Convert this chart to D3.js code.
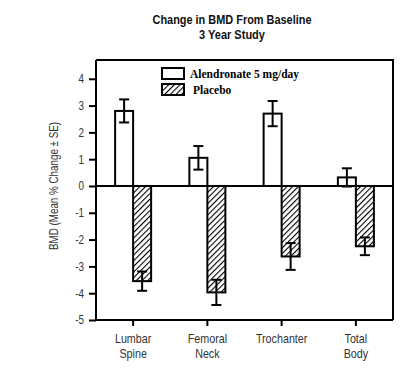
<!DOCTYPE html>
<html>
<head>
<meta charset="utf-8">
<script src="https://cdn.jsdelivr.net/npm/d3@7"></script>
<style>
body { margin: 0; background: #fff; }
svg { display: block; }
</style>
</head>
<body>
<svg id="chart"></svg>
<script>
var width = 409, height = 371;
var margin = { top: 60, right: 16, bottom: 51, left: 96 };
var chart_width = width - margin.left - margin.right;
var chart_height = height - margin.top - margin.bottom;

// data
var categories = [["Lumbar", "Spine"], ["Femoral", "Neck"], ["Trochanter"], ["Total", "Body"]];
var series = ["Alendronate 5 mg/day", "Placebo"];
var alendronate = [2.8, 1.05, 2.7, 0.32];
var alendronate_se = [0.43, 0.44, 0.47, 0.34];
var placebo = [-3.55, -3.97, -2.63, -2.25];
var placebo_se = [0.36, 0.47, 0.5, 0.33];
var y_ticks = [4, 3, 2, 1, 0, -1, -2, -3, -4, -5];

var sans = "'Liberation Sans', Arial, sans-serif";
var squeeze = 0.82; // the original uses a condensed face

var svg = d3.select("#chart").attr("width", width).attr("height", height);

var xScale = d3.scaleBand().domain(d3.range(categories.length)).range([0, chart_width]).paddingInner(0).paddingOuter(0);
var yScale = d3.scaleLinear().domain([-5, 4.7]).range([chart_height, 0]);
var barW = 18;

var defs = svg.append("defs");
var pat = defs.append("pattern")
	.attr("id", "hatch")
	.attr("patternUnits", "userSpaceOnUse")
	.attr("width", 4).attr("height", 4)
	.attr("patternTransform", "rotate(45)");
pat.append("rect").attr("width", 4).attr("height", 4).attr("fill", "#fff");
pat.append("line").attr("x1", 0).attr("y1", 0).attr("x2", 0).attr("y2", 4)
	.attr("stroke", "#000").attr("stroke-width", 2.2);

// title
svg.append("text")
	.attr("x", 232).attr("y", 24)
	.attr("text-anchor", "middle")
	.attr("textLength", 159).attr("lengthAdjust", "spacingAndGlyphs")
	.style("font-family", sans).style("font-weight", "bold").style("font-size", "13px").attr("fill", "#111")
	.text("Change in BMD From Baseline");
svg.append("text")
	.attr("x", 232).attr("y", 39)
	.attr("text-anchor", "middle")
	.attr("textLength", 66).attr("lengthAdjust", "spacingAndGlyphs")
	.style("font-family", sans).style("font-weight", "bold").style("font-size", "13px").attr("fill", "#111")
	.text("3 Year Study");

var g = svg.append("g").attr("transform", "translate(" + margin.left + "," + margin.top + ")");

// frame top and right
g.append("path")
	.attr("d", "M0,0L" + chart_width + ",0L" + chart_width + "," + chart_height)
	.attr("fill", "none").attr("stroke", "#000").attr("stroke-width", 2);

// y axis
var yAxis = d3.axisLeft(yScale).tickValues(y_ticks).tickSize(7).tickPadding(4).tickFormat(d3.format("d"));
var gy = g.append("g").call(yAxis);
gy.select(".domain").attr("stroke-width", 2).attr("d", "M0,0V" + chart_height);
gy.selectAll(".tick line").attr("stroke-width", 2);
gy.selectAll(".tick text")
	.attr("x", -12 / squeeze)
	.attr("transform", "scale(" + squeeze + ",1)")
	.style("font-family", sans).style("font-size", "12px").attr("fill", "#333")
	.text(function(d) { return d < 0 ? "-" + Math.abs(d) : d; });

// x axis
var xAxis = d3.axisBottom(xScale).tickSize(6).tickFormat("");
var gx = g.append("g").attr("transform", "translate(0," + chart_height + ")").call(xAxis);
gx.select(".domain").attr("stroke-width", 2).attr("d", "M0,0H" + chart_width);
gx.selectAll(".tick line").attr("stroke-width", 2);
gx.selectAll(".tick").each(function(d) {
	var t = d3.select(this).append("text")
		.attr("text-anchor", "middle")
		.attr("transform", "scale(0.86,1)")
		.style("font-family", sans).style("font-size", "12.5px").attr("fill", "#333");
	categories[d].forEach(function(s, i) {
		t.append("tspan").attr("x", 0).attr("y", 23 + i * 15).text(s);
	});
});

// y label
svg.append("text")
	.attr("transform", "translate(58," + (margin.top + yScale(0)) + ") rotate(-90)")
	.attr("text-anchor", "middle")
	.attr("textLength", 128).attr("lengthAdjust", "spacingAndGlyphs")
	.style("font-family", sans).style("font-size", "12px").attr("fill", "#333")
	.text("BMD (Mean % Change \u00b1 SE)");

// bars
function drawSeries(values, se, offset, fill) {
	var bg = g.append("g");
	bg.selectAll("rect").data(values).enter().append("rect")
		.attr("x", function(d, i) { return xScale(i) + xScale.bandwidth() / 2 + offset; })
		.attr("y", function(d) { return yScale(Math.max(0, d)); })
		.attr("width", barW)
		.attr("height", function(d) { return Math.abs(yScale(d) - yScale(0)); })
		.attr("fill", fill).attr("stroke", "#000").attr("stroke-width", 2);
	var eb = bg.selectAll("g.err").data(values).enter().append("g").attr("class", "err")
		.attr("transform", function(d, i) { return "translate(" + (xScale(i) + xScale.bandwidth() / 2 + offset + barW / 2) + ",0)"; });
	eb.append("line")
		.attr("y1", function(d, i) { return yScale(d - se[i]); })
		.attr("y2", function(d, i) { return yScale(d + se[i]); })
		.attr("stroke", "#000").attr("stroke-width", 2);
	eb.append("line").attr("x1", -5).attr("x2", 5)
		.attr("y1", function(d, i) { return yScale(d + se[i]); })
		.attr("y2", function(d, i) { return yScale(d + se[i]); })
		.attr("stroke", "#000").attr("stroke-width", 2);
	eb.append("line").attr("x1", -5).attr("x2", 5)
		.attr("y1", function(d, i) { return yScale(d - se[i]); })
		.attr("y2", function(d, i) { return yScale(d - se[i]); })
		.attr("stroke", "#000").attr("stroke-width", 2);
}
drawSeries(alendronate, alendronate_se, -barW, "#fff");
drawSeries(placebo, placebo_se, 0, "url(#hatch)");

// zero line
g.append("line")
	.attr("x1", 0).attr("x2", chart_width)
	.attr("y1", yScale(0)).attr("y2", yScale(0))
	.attr("stroke", "#000").attr("stroke-width", 2);

// legend
var fills = ["#fff", "url(#hatch)"];
var lg = svg.append("g").attr("transform", "translate(162,68)");
series.forEach(function(s, i) {
	lg.append("rect").attr("x", 0).attr("y", i * 16).attr("width", 22).attr("height", 11)
		.attr("fill", fills[i]).attr("stroke", "#000").attr("stroke-width", 2);
	lg.append("text").attr("x", i == 0 ? 28 : 31).attr("y", i * 16 + 10)
		.style("font-family", "'Liberation Serif', 'DejaVu Serif', serif")
		.style("font-weight", "bold").style("font-size", "11.5px")
		.text(s);
});
</script>
</body>
</html>
